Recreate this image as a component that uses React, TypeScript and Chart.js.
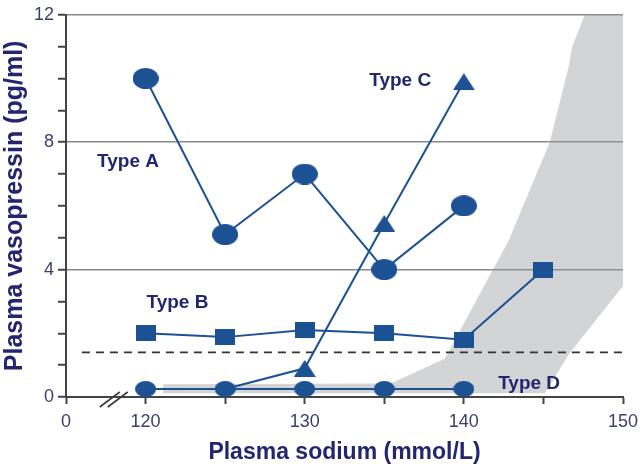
import React, { useEffect, useRef } from 'react';
import { Chart, registerables } from 'chart.js';

Chart.register(...registerables);

// ---- data ----
const sodiumA = [120, 125, 130, 135, 140];
const vasopressinA = [10.0, 5.1, 7.0, 4.0, 6.0];

const sodiumB = [120, 125, 130, 135, 140, 145];
const vasopressinB = [2.0, 1.88, 2.1, 2.0, 1.8, 4.0];

const sodiumC = [125, 130, 135, 140];
const vasopressinC = [0.25, 0.9, 5.45, 9.9];

const sodiumD = [120, 125, 130, 135, 140];
const vasopressinD = [0.25, 0.25, 0.25, 0.25, 0.25];

// normal range (shaded band) outline
const normalX = [121.1, 121.1, 135.4, 138.8, 142.8, 145.4, 146.6, 146.8, 147.6, 150.1, 150.1, 146.6, 145.1];
const normalY = [0.12, 0.4, 0.42, 1.2, 4.9, 8.0, 10.4, 11.0, 12, 12, 3.55, 1.35, 0.12];

// detection limit (dashed)
const limitX = [116, 150];
const limitY = [1.4, 1.4];

const xTickValues = [115, 120, 125, 130, 135, 140, 145, 150];
const xTickLabels = ['0', '120', '', '130', '', '140', '', '150'];
const yTickValues = [0, 4, 8, 12];
const yTickLabels = ['0', '4', '8', '12'];

const typeNames = ['Type A', 'Type B', 'Type C', 'Type D'];
const typeLabelX = [118.9, 122.0, 136.0, 144.1];
const typeLabelY = [7.38, 2.96, 9.94, 0.4];

const breakAt = 118;

const MARK = '#1c5193';
const NAVY = '#23266f';
const FONT = '"Liberation Sans", Arial, sans-serif';

function zip(xs: number[], ys: number[]) {
  return xs.map((x, i) => ({ x, y: ys[i] }));
}

function makeMarker(kind: 'ellipse' | 'square' | 'triangle', w: number, h: number) {
  const c = document.createElement('canvas');
  c.width = w;
  c.height = h;
  const ctx = c.getContext('2d')!;
  ctx.fillStyle = MARK;
  ctx.beginPath();
  if (kind === 'ellipse') {
    ctx.ellipse(w / 2, h / 2, w / 2, h / 2, 0, 0, Math.PI * 2);
  } else if (kind === 'square') {
    ctx.rect(0, 0, w, h);
  } else {
    ctx.moveTo(w / 2, 0);
    ctx.lineTo(w, h);
    ctx.lineTo(0, h);
    ctx.closePath();
  }
  ctx.fill();
  return c;
}

const overlayPlugin = {
  id: 'overlay',
  afterDatasetsDraw(chart: any) {
    const { ctx, scales } = chart;
    const xs = scales.x;
    const ys = scales.y;
    ctx.save();
    ctx.fillStyle = NAVY;
    ctx.font = `bold 19px ${FONT}`;
    ctx.textAlign = 'center';
    ctx.textBaseline = 'middle';
    typeNames.forEach((t, i) => {
      ctx.fillText(t, xs.getPixelForValue(typeLabelX[i]), ys.getPixelForValue(typeLabelY[i]));
    });
    // axis break marks
    const cx = xs.getPixelForValue(breakAt);
    const cy = ys.getPixelForValue(0) + 2;
    ctx.strokeStyle = '#3a3a3a';
    ctx.lineWidth = 1.6;
    [-4, 4].forEach((d) => {
      ctx.beginPath();
      ctx.moveTo(cx + d - 10, cy + 8);
      ctx.lineTo(cx + d + 10, cy - 7);
      ctx.stroke();
    });
    ctx.restore();
  },
};

export default function App() {
  const ref = useRef<HTMLCanvasElement>(null);
  useEffect(() => {
    if (!ref.current) return;
    const bigCircle = makeMarker('ellipse', 26, 21);
    const smallCircle = makeMarker('ellipse', 21, 16);
    const square = makeMarker('square', 20, 16);
    const triangle = makeMarker('triangle', 22, 17);

    const chart = new Chart(ref.current, {
      type: 'line',
      data: {
        datasets: [
          {
            label: 'normal',
            data: zip(normalX, normalY),
            borderWidth: 0,
            borderColor: 'rgba(0,0,0,0)',
            backgroundColor: 'rgba(150,152,158,0.42)',
            fill: 'shape',
            pointRadius: 0,
            tension: 0,
            order: 10,
          } as any,
          {
            label: 'limit',
            data: zip(limitX, limitY),
            borderColor: '#333',
            borderWidth: 1.6,
            borderDash: [8, 6],
            pointRadius: 0,
            fill: false,
            order: 5,
          },
          {
            label: 'Type D',
            data: zip(sodiumD, vasopressinD),
            borderColor: MARK,
            borderWidth: 2,
            pointStyle: smallCircle,
            pointRadius: 6,
            fill: false,
            order: 3,
          },
          {
            label: 'Type C',
            data: zip(sodiumC, vasopressinC),
            borderColor: MARK,
            borderWidth: 2,
            pointStyle: triangle,
            pointRadius: (c: any) => (c.dataIndex === 0 ? 0 : 6),
            fill: false,
            order: 2,
          },
          {
            label: 'Type B',
            data: zip(sodiumB, vasopressinB),
            borderColor: MARK,
            borderWidth: 2,
            pointStyle: square,
            pointRadius: 6,
            fill: false,
            order: 1,
          },
          {
            label: 'Type A',
            data: zip(sodiumA, vasopressinA),
            borderColor: MARK,
            borderWidth: 2,
            pointStyle: bigCircle,
            pointRadius: 6,
            fill: false,
            order: 0,
          },
        ],
      },
      options: {
        animation: false,
        responsive: true,
        maintainAspectRatio: false,
        layout: { padding: { top: 12, right: 17, left: 0, bottom: 0 } },
        plugins: {
          legend: { display: false },
          tooltip: { enabled: false },
        },
        scales: {
          x: {
            type: 'linear',
            min: 115,
            max: 150,
            afterFit: (s: any) => {
              s.height = 74;
              s.paddingLeft = 0;
              s.paddingRight = 0;
            },
            afterBuildTicks: (s: any) => {
              s.ticks = xTickValues.map((v) => ({ value: v }));
            },
            ticks: {
              autoSkip: false,
              maxRotation: 0,
              padding: 7,
              color: '#3a3f6c',
              font: { family: FONT, size: 18 },
              callback: (v: any) => {
                const i = xTickValues.indexOf(Number(v));
                return i >= 0 ? xTickLabels[i] : '';
              },
            },
            grid: {
              drawOnChartArea: false,
              drawTicks: true,
              tickLength: 7,
              tickColor: '#444',
              tickWidth: 2,
            },
            border: { display: true, color: '#444', width: 2 },
            title: {
              display: true,
              text: 'Plasma sodium (mmol/L)',
              color: NAVY,
              font: { family: FONT, size: 23, weight: 'bold' },
              padding: { top: 4, bottom: 5 },
            },
          },
          y: {
            type: 'linear',
            min: 0,
            max: 12,
            afterFit: (s: any) => {
              s.width = 66;
            },
            ticks: {
              stepSize: 1,
              autoSkip: false,
              padding: 4,
              color: '#3a3f6c',
              font: { family: FONT, size: 18 },
              callback: (v: any) => {
                const i = yTickValues.indexOf(Number(v));
                return i >= 0 ? yTickLabels[i] : '';
              },
            },
            grid: {
              drawTicks: true,
              tickLength: 8,
              tickColor: '#444',
              tickWidth: 2,
              lineWidth: 1.5,
              color: (c: any) =>
                c.tick && c.tick.value > 0 && yTickValues.includes(c.tick.value) ? '#8a8a8a' : 'rgba(0,0,0,0)',
            },
            border: { display: true, color: '#444', width: 2 },
            title: {
              display: true,
              text: 'Plasma vasopressin (pg/ml)',
              color: NAVY,
              font: { family: FONT, size: 25, weight: 'bold' },
              padding: { top: 0, bottom: 2 },
            },
          },
        },
      } as any,
      plugins: [overlayPlugin],
    });
    return () => chart.destroy();
  }, []);

  return (
    <div style={{ position: 'absolute', left: 0, top: 0, width: 640, height: 471, background: '#fff' }}>
      <canvas ref={ref} />
    </div>
  );
}
